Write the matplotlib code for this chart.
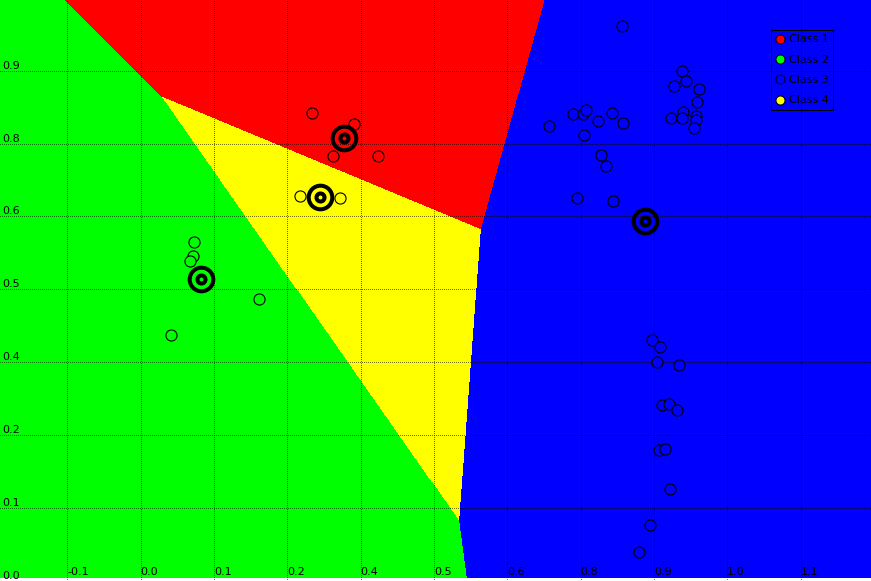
import numpy as np
import matplotlib
matplotlib.use("Agg")
import matplotlib.pyplot as plt
from matplotlib.colors import ListedColormap
from matplotlib.lines import Line2D

# ---- data ----
class_names = ["Class 1", "Class 2", "Class 3", "Class 4"]
class_colors = ["#ff0000", "#00ff00", "#0000ff", "#ffff00"]

class1_x = [0.292, 0.364, 0.328, 0.405]
class1_y = [0.803, 0.783, 0.729, 0.728]

class2_x = [0.091, 0.089, 0.084, 0.202, 0.051]
class2_y = [0.581, 0.557, 0.548, 0.484, 0.422]

class3_x = [0.820, 0.922, 0.930, 0.909, 0.952, 0.949, 0.924, 0.904, 0.922,
            0.946, 0.946, 0.944, 0.737, 0.754, 0.759, 0.804, 0.780, 0.823,
            0.696, 0.755, 0.784, 0.793, 0.743, 0.805, 0.871, 0.885, 0.881,
            0.918, 0.888, 0.900, 0.914, 0.884, 0.893, 0.902, 0.869, 0.850]
class3_y = [0.951, 0.875, 0.857, 0.848, 0.844, 0.822, 0.804, 0.794, 0.793,
            0.797, 0.790, 0.776, 0.800, 0.800, 0.807, 0.803, 0.788, 0.785,
            0.780, 0.764, 0.731, 0.711, 0.657, 0.651, 0.413, 0.401, 0.376,
            0.371, 0.302, 0.303, 0.294, 0.224, 0.226, 0.157, 0.096, 0.050]

class4_x = [0.272, 0.340]
class4_y = [0.660, 0.657]

centroid_x = [0.347, 0.103, 0.860, 0.305]
centroid_y = [0.760, 0.518, 0.618, 0.659]

x_ticks = [-0.125, 0.0, 0.125, 0.25, 0.375, 0.5, 0.625, 0.75, 0.875, 1.0, 1.125]
x_tick_labels = ["-0.1", "0.0", "0.1", "0.2", "0.4", "0.5", "0.6", "0.8", "0.9", "1.0", "1.1"]
y_ticks = [0.0, 0.125, 0.25, 0.375, 0.5, 0.625, 0.75, 0.875]
y_tick_labels = ["0.0", "0.1", "0.2", "0.4", "0.5", "0.6", "0.8", "0.9"]

x_lim = (-0.2399, 1.2450)
y_lim = (0.0056, 0.9961)

# ---- figure ----
W, H = 871, 581
fig = plt.figure(figsize=(W / 100, H / 100), dpi=100)
ax = fig.add_axes([0, 0, 1, 1])
ax.set_xlim(*x_lim)
ax.set_ylim(*y_lim)
for s in ax.spines.values():
    s.set_visible(False)

# decision regions: nearest centroid
gx = np.linspace(x_lim[0], x_lim[1], W)
gy = np.linspace(y_lim[0], y_lim[1], H)
GX, GY = np.meshgrid(gx, gy)
cx = np.array(centroid_x)[:, None, None]
cy = np.array(centroid_y)[:, None, None]
d = (GX[None] - cx) ** 2 + (GY[None] - cy) ** 2
labels = np.argmin(d, axis=0)
ax.imshow(labels, origin="lower", extent=(*x_lim, *y_lim), aspect="auto",
          cmap=ListedColormap(class_colors), vmin=-0.5, vmax=3.5,
          interpolation="nearest", zorder=0)

# grid and ticks
ax.set_xticks(x_ticks)
ax.set_xticklabels(x_tick_labels)
ax.set_yticks(y_ticks)
ax.set_yticklabels(y_tick_labels)
ax.tick_params(axis="both", length=0, labelsize=8, colors="black")
ax.tick_params(axis="x", pad=-2.6)
ax.tick_params(axis="y", pad=-1.5)
plt.setp(ax.get_xticklabels(), ha="left", va="bottom")
plt.setp(ax.get_yticklabels(), ha="left", va="bottom")
ax.grid(True, color="black", alpha=0.55, linestyle=(0, (1, 2)), linewidth=0.72,
        antialiased=False)

# points
all_x = [class1_x, class2_x, class3_x, class4_x]
all_y = [class1_y, class2_y, class3_y, class4_y]
for xs, ys, c in zip(all_x, all_y, class_colors):
    ax.plot(xs, ys, linestyle="none", marker="o", ms=8, mfc=c, mec="black",
            mew=0.8, zorder=3)

# centroids (bullseye)
for x, y, c in zip(centroid_x, centroid_y, class_colors):
    ax.plot([x], [y], linestyle="none", marker="o", ms=17, mfc="none",
            mec="black", mew=2.9, zorder=4)
    ax.plot([x], [y], linestyle="none", marker="o", ms=5.8, mfc=c,
            mec="black", mew=2.9, zorder=4)

# legend
handles = [Line2D([], [], linestyle="none", marker="o", ms=6.5, mfc=c,
                  mec="black", mew=0.72) for c in class_colors]
leg = ax.legend(handles, class_names, loc="upper right",
                bbox_to_anchor=(833.3 / W, (H - 30) / H), borderaxespad=0,
                fontsize=8, frameon=True, fancybox=False,
                borderpad=0.4, handlelength=0.8,
                handletextpad=0.39, labelspacing=0.93)
frame = leg.get_frame()
frame.set_facecolor("none")
frame.set_edgecolor("black")
frame.set_alpha(None)
frame.set_linewidth(0.72)
leg.set_zorder(5)

fig.savefig("out.png", dpi=100)
